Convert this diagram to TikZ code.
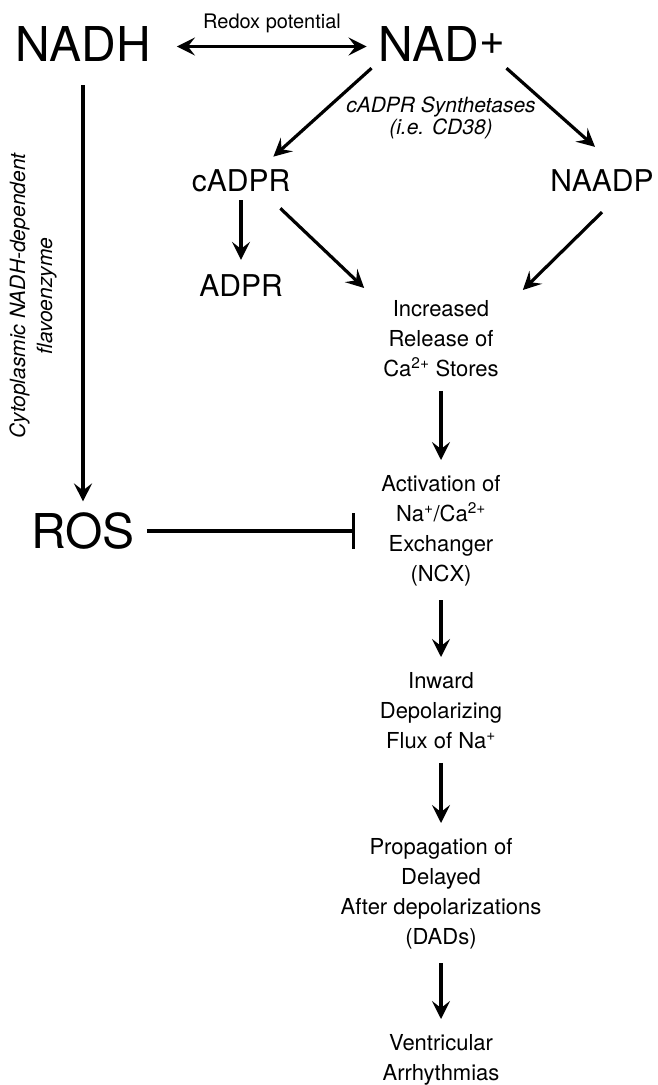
\documentclass[tikz,border=0pt]{standalone}
\usepackage{fontspec}
\setmainfont{TeX Gyre Heros}
\usetikzlibrary{
  arrows.meta,
  calc,
  positioning,
}
\tikzset{
  >={Stealth[length=18pt, width=18pt, inset=7pt]},
  every node/.style={inner sep=0pt},
  bigmol/.style={font=\fontsize{48}{48}\selectfont},
  midmol/.style={font=\fontsize{30}{30}\selectfont},
  cascade/.style={align=center, anchor=north, font=\fontsize{22}{30}\selectfont},
  enzyme/.style={align=center, font=\fontsize{21}{22}\selectfont\itshape},
  link/.style={->, line width=3.2pt},
  flow/.style={link, shorten <=14pt, shorten >=15pt},
  inhibit/.style={-{Bar[width=36pt]}, line width=3.2pt},
}

\begin{document}
\begin{tikzpicture}[x=1pt, y=-1pt]
  \useasboundingbox (0,0) rectangle (658,1085);

  % top row
  \node [bigmol] (nadh) at (83,43.5) {NADH};
  \node [bigmol] (nad) at (442,43.5)
        {NAD\raisebox{7pt}{\fontsize{44}{44}\selectfont+}};
  \node [font=\fontsize{20}{20}\selectfont] (redox) at (272,23) {Redox potential};
  \node [enzyme, anchor=north] (synth) at (441,97)
        {cADPR Synthetases\\(i.e. CD38)};
  \node [enzyme, font=\fontsize{21}{27}\selectfont\itshape, rotate=90] (flavo)
        at (33,296) {Cytoplasmic NADH-dependent\\flavoenzyme};

  % second messengers
  \node [midmol] (cadpr) at (241,181) {cADPR};
  \node [midmol] (naadp) at (602,181) {NAADP};
  \node [midmol] (adpr) at (241,286) {ADPR};
  \node [bigmol] (ros) at (83,531) {ROS};

  % calcium cascade
  \node [cascade] (calc) at (441,300)
        {Increased\\Release of\\Ca\textsuperscript{2+} Stores};
  \node [cascade] (ncx) at (441,475)
        {Activation of\\Na\textsuperscript{+}/Ca\textsuperscript{2+}\\Exchanger\\(NCX)};
  \node [cascade] (flux) at (441,672)
        {Inward\\Depolarizing\\Flux of Na\textsuperscript{+}};
  \node [cascade] (dads) at (441,838)
        {Propagation of\\Delayed\\After depolarizations\\(DADs)};
  \node [cascade] (arrh) at (441,1034) {Ventricular\\Arrhythmias};

  % connectors
  \draw [link, <->, shorten <=26pt, shorten >=12pt]
        ([yshift=-3pt]nadh.east) -- ([yshift=-3pt]nad.west);
  \draw [link, shorten <=24pt, shorten >=11pt] (nadh) -- (ros);
  \draw [link] ([xshift=-7pt, yshift=-7pt]nad.south west)
        -- ([xshift=-17pt, yshift=13pt]cadpr.north east);
  \draw [link] ([xshift=1pt, yshift=-7pt]nad.south east)
        -- ([xshift=-7pt, yshift=23pt]naadp.north);
  \draw [link, shorten <=8pt, shorten >=15pt] (cadpr) -- (adpr);
  \draw [link] ([xshift=-10pt, yshift=-16pt]cadpr.south east)
        -- ([xshift=-19pt, yshift=12pt]calc.north west);
  \draw [link] ([yshift=-20pt]naadp.south)
        -- ([xshift=24pt, yshift=10pt]calc.north east);
  \draw [inhibit, shorten <=12pt, shorten >=26pt] (ros.east) -- (ros.east -| ncx.west);
  \draw [flow] (calc) -- (ncx);
  \draw [flow] (ncx) -- (flux);
  \draw [flow] (flux) -- (dads);
  \draw [flow] (dads) -- (arrh);
\end{tikzpicture}
\end{document}
